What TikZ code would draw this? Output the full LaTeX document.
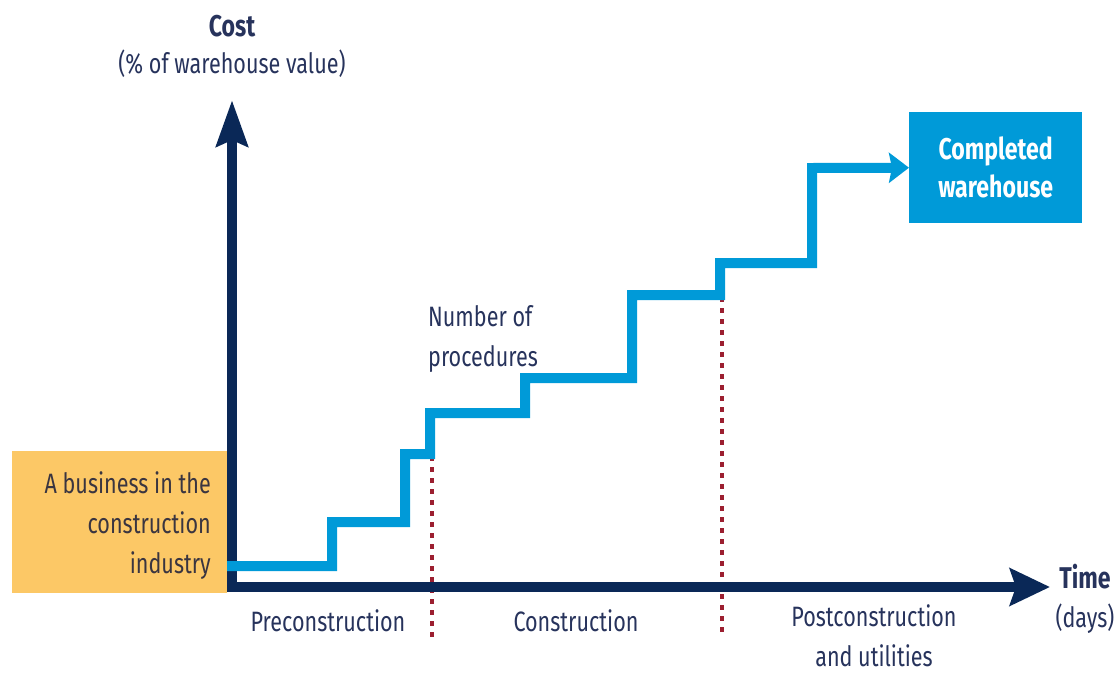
\documentclass[tikz,border=0pt]{standalone}
\usepackage{fontspec}
\setmainfont{Fira Sans}[FakeStretch=0.77]
\usetikzlibrary{arrows.meta}
\definecolor{navy}{HTML}{0A2857}
\definecolor{sky}{HTML}{009AD8}
\definecolor{gold}{HTML}{FCC866}
\definecolor{wine}{HTML}{9C1F30}
\definecolor{ink}{HTML}{27335C}
\definecolor{boxink}{HTML}{3A3540}
\begin{document}
\begin{tikzpicture}[x=1pt,y=-1pt,
  lbl/.style={font=\fontsize{28}{40}\selectfont, text=ink, inner sep=0pt, align=center},
  blbl/.style={lbl, font=\bfseries\fontsize{30}{40}\selectfont},
  axis/.style={navy, line width=10pt},
  vtip/.style={-{Stealth[length=46pt,width=31pt,inset=6pt]}},
  htip/.style={-{Stealth[length=40pt,width=37pt,inset=6pt]}},
  stepline/.style={sky, line width=10pt, line join=miter, -{Stealth[length=20pt,width=30pt,inset=3pt]}},
  phase/.style={wine, line width=3.5pt, dash pattern=on 5pt off 6pt},
  bizbox/.style={fill=gold, inner sep=0pt, minimum width=215pt, minimum height=142pt},
  endbox/.style={fill=sky, inner sep=0pt, minimum width=173pt, minimum height=111pt,
    text=white, font=\bfseries\fontsize{30}{38}\selectfont, align=center}]
\useasboundingbox (0,0) rectangle (1119,675);

% boxes
\node[bizbox, anchor=north west] (biz) at (12,451) {};
\node[lbl, text=boxink, align=right, anchor=north east] (biztxt) at (211,471)
  {A business in the\\construction\\industry};
\node[endbox, anchor=north west] (wh) at (909,112) {Completed\\warehouse};

% phase separators
\coordinate (d1t) at (432,456);
\coordinate (d1b) at (432,637);
\coordinate (d2t) at (722,297);
\coordinate (d2b) at (722,637);
\draw[phase] (d1t) -- (d1b);
\draw[phase] (d2t) -- (d2b);

% axes
\coordinate (O) at (232,587);
\coordinate (ytip) at (232,100);
\coordinate (xtip) at (1050,587);
\draw[axis, vtip] ([yshift=-5pt]O) -- (ytip);
\draw[axis, htip] ([xshift=-5pt]O) -- (xtip);

% step line
\coordinate (s0) at (227,566);
\draw[stepline] (s0) -| (332,522) -| (405,454) -| (430,413) -| (525,378)
  -| (632,295) -| (720,263) -| (812,168) -- (wh.west);

% labels
\node[blbl, anchor=base] (cost) at (232,36) {Cost};
\node[lbl, anchor=base] (costu) at (232,73) {(\% of warehouse value)};
\node[lbl, align=left, anchor=north west] (nproc) at (428,305) {Number of\\procedures};
\node[lbl, anchor=base] (pre) at (328,631) {Preconstruction};
\node[lbl, anchor=base] (con) at (576,631) {Construction};
\node[lbl, anchor=north] (post) at (874,604) {Postconstruction\\and utilities};
\node[blbl, anchor=base] (time) at (1085,588) {Time};
\node[lbl, anchor=base] (days) at (1085,627) {(days)};
\end{tikzpicture}
\end{document}
